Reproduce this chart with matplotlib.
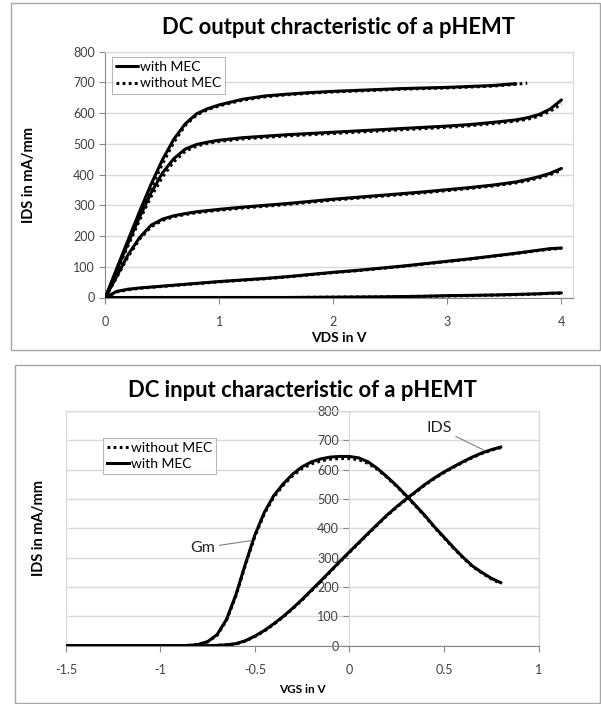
import matplotlib.pyplot as plt
from matplotlib.patches import Rectangle

plt.rcParams['font.family'] = ['Lato', 'DejaVu Sans']

# ---- top chart data: output characteristic, IDS (mA/mm) vs VDS (V)
vds = [0, 0.1, 0.2, 0.3, 0.4, 0.5, 0.6, 0.7, 0.8, 0.9, 1.0, 1.2, 1.4, 1.6,
       1.8, 2.0, 2.2, 2.4, 2.6, 2.8, 3.0, 3.2, 3.4, 3.6, 3.7, 3.8, 3.9, 4.0]

ids1_mec = [0, 95, 188, 280, 368, 448, 515, 565, 598, 615, 627, 645, 656, 662,
            667, 671, 674, 677, 680, 682, 684, 687, 690, 696]
ids1_nomec = [0, 90, 180, 270, 355, 435, 505, 560, 594, 612, 624, 642, 653, 660,
              665, 669, 672, 675, 678, 680, 682, 685, 688, 694, 698]
ids2_mec = [0, 90, 178, 262, 340, 405, 452, 483, 498, 506, 512, 520, 525, 530,
            534, 538, 542, 546, 550, 554, 558, 563, 570, 578, 585, 595, 613, 643]
ids2_nomec = [0, 85, 170, 252, 328, 392, 442, 476, 493, 502, 508, 516, 521, 526,
              530, 534, 538, 542, 546, 550, 554, 559, 566, 574, 580, 590, 606, 630]
ids3_mec = [0, 70, 140, 195, 235, 255, 266, 273, 279, 283, 287, 294, 300, 306,
            313, 320, 326, 332, 338, 344, 351, 358, 366, 376, 384, 393, 404, 420]
ids3_nomec = [0, 66, 134, 190, 230, 251, 263, 270, 276, 280, 284, 291, 297, 303,
              310, 317, 323, 329, 335, 341, 348, 355, 363, 373, 380, 389, 400, 414]
ids4_mec = [0, 20, 27, 31, 34, 37, 40, 43, 46, 49, 52, 57, 62, 68,
            75, 82, 88, 95, 102, 110, 118, 126, 135, 144, 149, 154, 159, 161]
ids4_nomec = [0, 18, 25, 30, 33, 36, 39, 42, 45, 48, 51, 56, 61, 67,
              74, 81, 87, 94, 101, 109, 117, 125, 134, 143, 148, 153, 157, 160]
ids5_mec = [0, 0, 0, 0, 0, 0, 0, 0, 0, 0, 0, 0, 0, 0,
            0.5, 1, 1.5, 2, 3, 4, 6, 7, 8, 10, 11, 12, 14, 15]
ids5_nomec = [0, 0, 0, 0, 0, 0, 0, 0, 0, 0, 0, 0, 0, 0,
              0.5, 1, 1.5, 2, 3, 4, 5, 6, 8, 9, 10, 12, 13, 14]

# ---- bottom chart data: input characteristic vs VGS (V)
vgs = [-1.5, -1.2, -1.0, -0.9, -0.85, -0.8, -0.75, -0.7, -0.65, -0.6, -0.55,
       -0.5, -0.45, -0.4, -0.35, -0.3, -0.25, -0.2, -0.15, -0.1, -0.05, 0,
       0.05, 0.1, 0.15, 0.2, 0.25, 0.3, 0.35, 0.4, 0.45, 0.5, 0.55, 0.6,
       0.65, 0.7, 0.75, 0.8]

gm_mec = [0, 0, 0, 0, 1, 4, 14, 38, 90, 175, 280, 378, 455, 512, 552, 585,
          610, 627, 637, 643, 645, 645, 640, 626, 603, 575, 545, 512, 478,
          443, 405, 370, 335, 302, 272, 250, 230, 215]
gm_nomec = [0, 0, 0, 0, 1, 4, 13, 36, 87, 171, 276, 373, 450, 507, 547, 580,
            604, 620, 630, 636, 638, 638, 634, 621, 600, 573, 543, 510, 476,
            441, 403, 368, 333, 300, 270, 248, 228, 212]
ids_mec = [0, 0, 0, 0, 0, 0, 0, 1, 3, 7, 17, 33, 52, 75, 100, 128, 158, 190,
           222, 255, 288, 320, 352, 384, 415, 446, 474, 500, 525, 550, 572,
           592, 610, 627, 643, 657, 668, 677]
ids_nomec = [0, 0, 0, 0, 0, 0, 0, 1, 3, 6, 16, 31, 50, 73, 98, 126, 156, 188,
             220, 253, 286, 318, 350, 382, 413, 444, 472, 498, 523, 548, 570,
             590, 608, 625, 641, 655, 666, 675]

W, H = 601, 704
fig = plt.figure(figsize=(W / 100, H / 100), dpi=100)

frame_col = '#a6a6a6'
grid_col = '#d9d9d9'
axis_col = '#888888'
text_col = '#404040'
lw = 2.2
dot = (0, (0.9, 1.1))

# chart frames
fig.patches.append(Rectangle((11 / W, 1 - 350 / H), 589 / W, 347 / H,
                             transform=fig.transFigure, fill=False,
                             edgecolor=frame_col, lw=1))
fig.patches.append(Rectangle((15 / W, 0.001), 585 / W, 1 - 365 / H - 0.001,
                             transform=fig.transFigure, fill=False,
                             edgecolor=frame_col, lw=1))

# ---------------- top chart
ax1 = fig.add_axes([105.4 / W, 1 - 297.5 / H, 467.1 / W, 245.8 / H])
pairs = [(ids1_mec, ids1_nomec), (ids2_mec, ids2_nomec), (ids3_mec, ids3_nomec),
         (ids4_mec, ids4_nomec), (ids5_mec, ids5_nomec)]
for i, (a, b) in enumerate(pairs):
    ax1.plot(vds[:len(a)], a, color='black', lw=lw, solid_capstyle='round',
             label='with MEC' if i == 0 else None, zorder=3)
    ax1.plot(vds[:len(b)], b, color='black', lw=lw, linestyle=dot,
             label='without MEC' if i == 0 else None, zorder=3)

ax1.set_xlim(0, 4.097)
ax1.set_ylim(0, 800)
ax1.set_xticks([0, 1, 2, 3, 4])
ax1.set_yticks(range(0, 801, 100))
ax1.grid(axis='y', color=grid_col, lw=1)
ax1.set_axisbelow(True)
for s in ax1.spines.values():
    s.set_color(grid_col)
ax1.spines['left'].set_color(axis_col)
ax1.spines['bottom'].set_color(axis_col)
ax1.tick_params(colors=axis_col, labelcolor=text_col, labelsize=9,
                length=4, width=0.8)
ax1.tick_params(axis='x', pad=9)
ax1.set_title('DC output chracteristic of a pHEMT', fontsize=15.8,
              fontweight='bold', pad=13)
ax1.set_xlabel('VDS in V', fontsize=10, fontweight='bold', labelpad=3)
ax1.set_ylabel('IDS in mA/mm', fontsize=10.5, fontweight='bold')
ax1.yaxis.set_label_coords(-0.149, 0.5, transform=ax1.transAxes)
leg1 = ax1.legend(loc='upper left', bbox_to_anchor=(0.014, 0.978),
                  fancybox=False, edgecolor=frame_col, fontsize=10,
                  handlelength=1.6, handletextpad=0.1, borderpad=0.3,
                  labelspacing=0.3, borderaxespad=0)
leg1.get_frame().set_linewidth(0.8)

# ---------------- bottom chart
ax2 = fig.add_axes([65.9 / W, 1 - 645.7 / H, 472.6 / W, 234.7 / H])
ax2.plot(vgs, gm_nomec, color='black', lw=lw, linestyle=dot,
         label='without MEC', zorder=3)
ax2.plot(vgs, gm_mec, color='black', lw=lw, label='with MEC', zorder=3)
ax2.plot(vgs, ids_nomec, color='black', lw=lw, linestyle=dot, zorder=3)
ax2.plot(vgs, ids_mec, color='black', lw=lw, zorder=3)

ax2.set_xlim(-1.5, 1)
ax2.set_ylim(0, 800)
ax2.set_xticks([-1.5, -1, -0.5, 0, 0.5, 1])
ax2.set_xticklabels(['-1.5', '-1', '-0.5', '0', '0.5', '1'])
ax2.set_yticks(range(0, 801, 100))
ax2.grid(axis='y', color=grid_col, lw=1)
ax2.set_axisbelow(True)
for s in ax2.spines.values():
    s.set_color(grid_col)
ax2.spines['left'].set_position(('data', 0))
ax2.spines['left'].set_color(grid_col)
ax2.spines['bottom'].set_color(axis_col)
ax2.add_patch(Rectangle((0, 0), 1, 1, transform=ax2.transAxes, fill=False,
                        edgecolor=grid_col, lw=1, zorder=0))
ax2.tick_params(colors=axis_col, labelcolor=text_col, labelsize=9,
                length=4, width=0.8)
ax2.tick_params(axis='x', pad=9)
ax2.set_title('DC input characteristic of a pHEMT', fontsize=15.8,
              fontweight='bold', pad=10)
ax2.set_xlabel('VGS in V', fontsize=8.5, fontweight='bold', labelpad=6)
ax2.set_ylabel('IDS in mA/mm', fontsize=10.5, fontweight='bold')
ax2.yaxis.set_label_coords(-0.042, 0.5, transform=ax2.transAxes)
leg2 = ax2.legend(loc='upper left', bbox_to_anchor=(0.078, 0.886),
                  fancybox=False, edgecolor=frame_col, fontsize=10,
                  handlelength=1.6, handletextpad=0.1, borderpad=0.3,
                  labelspacing=0.3, borderaxespad=0)
leg2.get_frame().set_linewidth(0.8)

ax2.annotate('Gm', xy=(-0.521, 358), xytext=(-0.775, 334), fontsize=11.5,
             ha='center', va='center', color='#222222',
             arrowprops=dict(arrowstyle='-', color='#808080', lw=0.8,
                             shrinkA=1, shrinkB=0))
ax2.annotate('IDS', xy=(0.71, 667), xytext=(0.474, 741), fontsize=11.5,
             ha='center', va='center', color='#222222',
             arrowprops=dict(arrowstyle='-', color='#808080', lw=0.8,
                             shrinkA=1, shrinkB=0))

fig.savefig('out.png', dpi=100)
